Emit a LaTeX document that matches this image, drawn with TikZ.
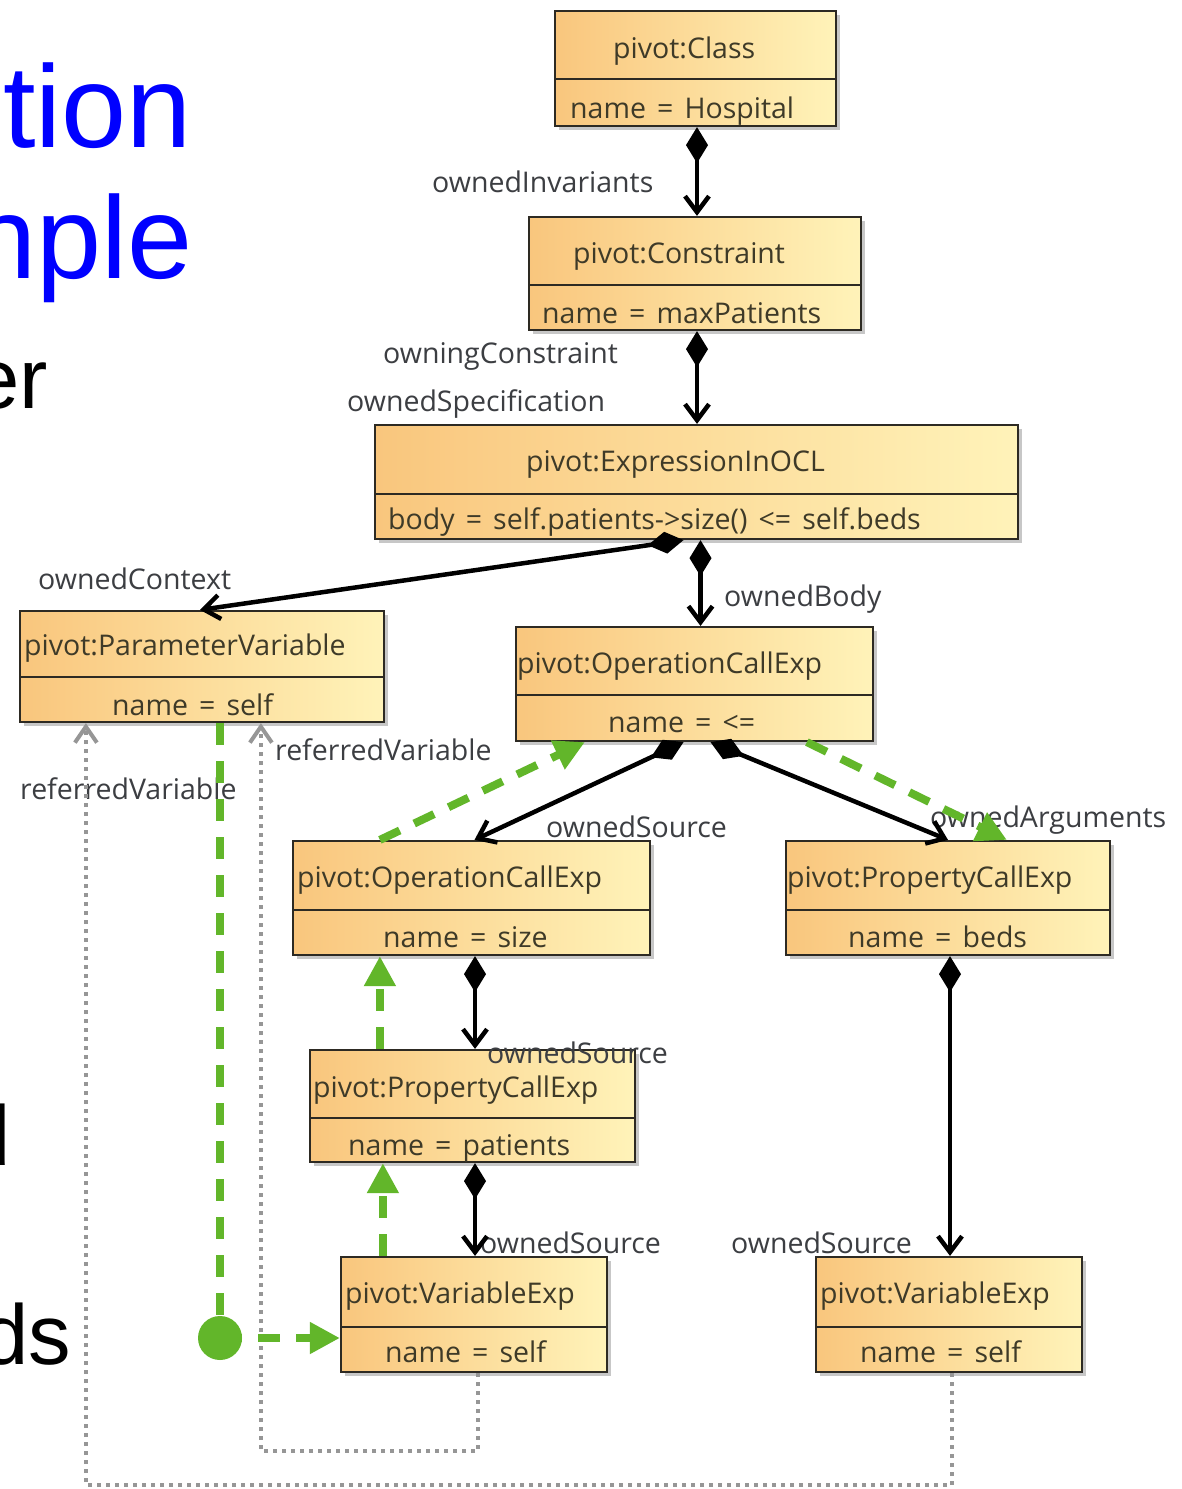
\documentclass[tikz,border=0pt]{standalone}
\usepackage{fontspec}
\setmainfont{Open Sans}[WordSpace=1.5]
\newfontfamily\arialf{Liberation Sans}
\usetikzlibrary{arrows.meta,fit,shadows,calc}
\definecolor{boxL}{RGB}{249,198,125}
\definecolor{boxR}{RGB}{255,243,185}
\definecolor{boxline}{RGB}{45,42,35}
\definecolor{txtc}{RGB}{62,58,40}
\definecolor{lblc}{RGB}{60,62,66}
\definecolor{flowc}{RGB}{98,182,42}
\definecolor{refc}{RGB}{150,150,150}
\begin{document}
\begin{tikzpicture}[x=1pt,y=-1pt,
  ubox/.style={draw=boxline, line width=2.2pt, left color=boxL, right color=boxR, inner sep=0pt,
    drop shadow={shadow xshift=4pt,shadow yshift=-4pt,fill=black,opacity=0.22}},
  divline/.style={draw=boxline, line width=2.2pt},
  ttxt/.style={inner sep=0pt, anchor=west, text=txtc, font=\fontsize{28.5}{34}\selectfont, text height=25pt, text depth=5pt},
  lbl/.style={ttxt, text=lblc},
  bigtxt/.style={inner sep=0pt, anchor=base east},
  compline/.style={line width=4.5pt, draw=black, {Diamond[length=36pt,width=22pt]}-{Straight Barb[length=16pt,width=24pt]}},
  flowline/.style={line width=8pt, draw=flowc, dash pattern=on 22pt off 16pt, -{Triangle[length=30pt,width=30pt]}},
  refline/.style={line width=4pt, draw=refc, dash pattern=on 4pt off 5pt, -{Straight Barb[length=16pt,width=22pt]}},
  jdot/.style={circle, fill=flowc, minimum size=44pt, inner sep=0pt}
]
\useasboundingbox (0,0) rectangle (1182,1489);
\fill[white] (0,0) rectangle (1182,1489);
\clip (0,0) rectangle (1182,1489);

% slide text fragments
\node[bigtxt, text=blue, font=\arialf\fontsize{117}{120}\selectfont] (s1) at (192,147) {tion};
\node[bigtxt, text=blue, font=\arialf\fontsize{117}{120}\selectfont] (s2) at (193,278) {nple};
\node[bigtxt, text=black, font=\arialf\fontsize{85}{90}\selectfont] (s3) at (48,408) {er};
\node[bigtxt, text=black, font=\arialf\fontsize{85}{90}\selectfont] (s4) at (11,1165) {d};
\node[bigtxt, text=black, font=\arialf\fontsize{85}{90}\selectfont] (s5) at (71,1364) {ds};

% boxes
\node[ubox, fit={(555,11) (836,126)}] (cls) {};
\draw[divline] (555,79) -- (836,79);
\node[ttxt] (clsT) at (613,48) {pivot:Class};
\node[ttxt] (clsA) at (570,108) {name = Hospital};

\node[ubox, fit={(529,217) (861,330)}] (con) {};
\draw[divline] (529,285) -- (861,285);
\node[ttxt] (conT) at (573,253) {pivot:Constraint};
\node[ttxt] (conA) at (542,313) {name = maxPatients};

\node[ubox, fit={(375,425) (1018,539)}] (ocl) {};
\draw[divline] (375,494) -- (1018,494);
\node[ttxt] (oclT) at (526,461) {pivot:ExpressionInOCL};
\node[ttxt] (oclA) at (388,519) {body = self.patients->size() <= self.beds};

\node[ubox, fit={(20,611) (384,722)}] (pv) {};
\draw[divline] (20,677) -- (384,677);
\node[ttxt] (pvT) at (24,645) {pivot:ParameterVariable};
\node[ttxt] (pvA) at (112,705) {name = self};

\node[ubox, fit={(516,627) (873,741)}] (op1) {};
\draw[divline] (516,695) -- (873,695);
\node[ttxt] (op1T) at (517,663) {pivot:OperationCallExp};
\node[ttxt] (op1A) at (608,722) {name = <=};

\node[ubox, fit={(293,841) (650,955)}] (op2) {};
\draw[divline] (293,910) -- (650,910);
\node[ttxt] (op2T) at (297,877) {pivot:OperationCallExp};
\node[ttxt] (op2A) at (383,937) {name = size};

\node[ubox, fit={(786,841) (1110,955)}] (pc1) {};
\draw[divline] (786,910) -- (1110,910);
\node[ttxt] (pc1T) at (787,877) {pivot:PropertyCallExp};
\node[ttxt] (pc1A) at (848,937) {name = beds};

\node[ubox, fit={(310,1050) (635,1162)}] (pc2) {};
\draw[divline] (310,1118) -- (635,1118);
\node[ttxt] (pc2T) at (313,1087) {pivot:PropertyCallExp};
\node[ttxt] (pc2A) at (348,1145) {name = patients};

\node[ubox, fit={(341,1257) (607,1372)}] (ve1) {};
\draw[divline] (341,1327) -- (607,1327);
\node[ttxt] (ve1T) at (345,1293) {pivot:VariableExp};
\node[ttxt] (ve1A) at (385,1352) {name = self};

\node[ubox, fit={(816,1257) (1082,1372)}] (ve2) {};
\draw[divline] (816,1327) -- (1082,1327);
\node[ttxt] (ve2T) at (820,1293) {pivot:VariableExp};
\node[ttxt] (ve2A) at (860,1352) {name = self};

% labels
\node[lbl] (l1) at (432,182) {ownedInvariants};
\node[lbl] (l2) at (383,353) {owningConstraint};
\node[lbl] (l3) at (347,401) {ownedSpecification};
\node[lbl] (l4) at (38,579) {ownedContext};
\node[lbl] (l5) at (724,596) {ownedBody};
\node[lbl] (l6) at (546,827) {ownedSource};
\node[lbl] (l7) at (930,817) {ownedArguments};
\node[lbl] (l8) at (487,1053) {ownedSource};
\node[lbl] (l9) at (480,1243) {ownedSource};
\node[lbl] (l10) at (731,1243) {ownedSource};
\node[lbl] (l11) at (275,750) {referredVariable};
\node[lbl] (l12) at (20,789) {referredVariable};

% referred variable links (grey dotted)
\draw[refline] ([xshift=4pt]ve1.south) -- ++(0,78) -| ([xshift=242pt]pv.south west);
\draw[refline] ([xshift=3pt]ve2.south) -- ++(0,112) -| ([xshift=67pt]pv.south west);

% composition links
\draw[compline] ([xshift=1.5pt]cls.south) -- ([xshift=1.5pt]cls.south |- con.north);
\draw[compline] ([xshift=2pt]con.south) -- ([xshift=2pt]con.south |- ocl.north);
\draw[compline] ([xshift=-13pt]ocl.south) -- ([xshift=-2pt]pv.north);
\draw[compline] ([xshift=4pt]ocl.south) -- ([xshift=4pt]ocl.south |- op1.north);
\draw[compline] ([xshift=-11pt]op1.south) -- ([xshift=3pt]op2.north);
\draw[compline] ([xshift=16pt]op1.south) -- (pc1.north);
\draw[compline] ([xshift=3.5pt]op2.south) -- ([xshift=3.5pt]op2.south |- pc2.north);
\draw[compline] ([xshift=2.5pt]pc2.south) -- ([xshift=2.5pt]pc2.south |- ve1.north);
\draw[compline] ([xshift=2pt]pc1.south) -- ([xshift=2pt]pc1.south |- ve2.north);

% data flow (green dashed)
\node[jdot] (jn) at (220,1338) {};
\draw[flowline] ([xshift=88pt]op2.north west) -- ([xshift=70pt]op1.south west);
\draw[flowline] ([xshift=292pt]op1.south west) -- ([xshift=222pt]pc1.north west);
\draw[flowline] ([xshift=71pt]pc2.north west) -- ([xshift=88pt]op2.south west);
\draw[flowline] ([xshift=43pt]ve1.north west) -- ([xshift=74pt]pc2.south west);
\draw[flowline, -] (jn.center |- pv.south) -- (jn.center);
\draw[flowline] (jn.center) -- (jn.center -| ve1.west);
\end{tikzpicture}
\end{document}
